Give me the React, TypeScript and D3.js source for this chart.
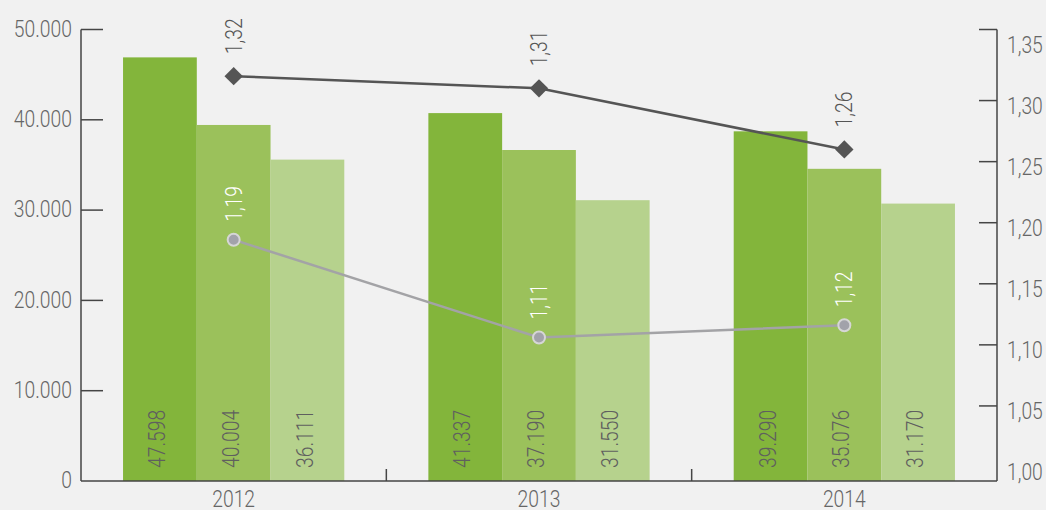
import * as d3 from 'd3'

const years = ['2012', '2013', '2014']
const seriesKeys = ['a', 'b', 'c']
const seriesA = [47598, 41337, 39290]
const seriesB = [40004, 37190, 35076]
const seriesC = [36111, 31550, 31170]
const ratioDark = [1.32, 1.31, 1.26]
const ratioLight = [1.186, 1.106, 1.116]
const leftTicks = [0, 10000, 20000, 30000, 40000, 50000]
const rightTicks = [1.0, 1.05, 1.1, 1.15, 1.2, 1.25, 1.3, 1.35]

const SQUEEZE = 0.84

// condensed-looking label: the original uses a narrow DIN-like face
const Label = ({ x, y, rot = 0, anchor = 'start', baseline = 'auto', fill, children }: any) => (
  <text
    transform={`translate(${x},${y}) rotate(${rot}) scale(${SQUEEZE},1)`}
    textAnchor={anchor}
    dominantBaseline={baseline}
    fontSize={23}
    fontWeight={300}
    fill={fill}
  >
    {children}
  </text>
)

const App = () => {
  const width = 1046
  const height = 510
  const BG = '#f1f1f1'
  const GREENS = ['#83b53b', '#9bc15b', '#b6d28d']
  const TEXT = '#666666'
  const AXIS = '#454545'
  const FONT = "Roboto, 'Liberation Sans', sans-serif"

  const left = 81
  const right = 997
  const bottom = 481

  const x = d3.scaleBand().domain(years).range([left, right]).padding(0)
  const xs = d3.scaleBand().domain(seriesKeys).range([0, x.bandwidth()]).paddingOuter(0.57)

  // axis ticks and bars are not quite on the same scale in the original
  const yAxis = d3.scaleLinear().domain([0, 50000]).range([bottom, 29.5])
  const y = d3.scaleLinear().domain([0, 50000]).range([bottom, 36])
  const y2 = d3.scaleLinear().domain([1, 1.35]).range([467, 39.5])

  const values = [seriesA, seriesB, seriesC]
  const fmtInt = (v: number) => d3.format(',')(v).replace(/,/g, '.')
  const fmtLeft = (v: number) => (v === 0 ? '0' : d3.format(',')(v).replace(/,/g, '.'))
  const fmtRatio = (v: number) => v.toFixed(2).replace('.', ',')
  const cx = (i: number) => (x(years[i]) as number) + x.bandwidth() / 2

  const ratioLine = d3.line<number>().x((_, i) => cx(i)).y((d) => y2(d))

  const rightTickY = (v: number) =>
    v === rightTicks[0] ? yAxis(0) : v === rightTicks[rightTicks.length - 1] ? yAxis(50000) : y2(v)

  return (
    <svg
      width={width}
      height={height}
      style={{ position: 'absolute', left: 0, top: 0 }}
      fontFamily={FONT}
    >
      <rect width={width} height={height} fill={BG} />

      {/* bars */}
      {years.map((yr, i) => (
        <g key={yr} transform={`translate(${x(yr)},0)`}>
          {seriesKeys.map((k, j) => {
            const v = values[j][i]
            const bx = xs(k) as number
            return (
              <g key={k}>
                <rect x={bx} y={y(v)} width={xs.bandwidth()} height={bottom - y(v)} fill={GREENS[j]} />
                <Label x={bx + xs.bandwidth() / 2 - 3} y={468} rot={-90} baseline="central" fill="#5f5f5f">
                  {fmtInt(v)}
                </Label>
              </g>
            )
          })}
        </g>
      ))}

      {/* left axis */}
      <line x1={left} x2={left} y1={yAxis(0)} y2={yAxis(50000)} stroke={AXIS} strokeWidth={1.5} />
      {leftTicks.map((t) => (
        <g key={t}>
          {t > 0 && <line x1={left} x2={103} y1={yAxis(t)} y2={yAxis(t)} stroke={AXIS} strokeWidth={1.5} />}
          <Label x={72} y={yAxis(t) - 1} anchor="end" baseline="central" fill={TEXT}>
            {fmtLeft(t)}
          </Label>
        </g>
      ))}

      {/* right axis */}
      <line x1={right} x2={right} y1={yAxis(0)} y2={yAxis(50000)} stroke={AXIS} strokeWidth={1.5} />
      {rightTicks.map((t) => (
        <g key={t}>
          {t > 1 && (
            <line x1={979} x2={right} y1={rightTickY(t)} y2={rightTickY(t)} stroke={AXIS} strokeWidth={1.5} />
          )}
          <Label x={1007} y={y2(t) + 5} baseline="central" fill={TEXT}>
            {fmtRatio(t)}
          </Label>
        </g>
      ))}

      {/* bottom axis */}
      <line x1={left} x2={right} y1={bottom} y2={bottom} stroke={AXIS} strokeWidth={1.5} />
      {years.slice(1).map((yr) => (
        <line key={yr} x1={x(yr)} x2={x(yr)} y1={bottom} y2={bottom - 12} stroke={AXIS} strokeWidth={1.5} />
      ))}
      {years.map((yr, i) => (
        <Label key={yr} x={cx(i)} y={507} anchor="middle" fill={TEXT}>
          {yr}
        </Label>
      ))}

      {/* ratio lines */}
      <path d={ratioLine(ratioLight) || ''} fill="none" stroke="#a3a3a6" strokeWidth={2.5} />
      {ratioLight.map((v, i) => (
        <g key={i}>
          <circle cx={cx(i)} cy={y2(v)} r={6} fill="#a2a2aa" stroke="#d6d6d6" strokeWidth={2} />
          <Label x={cx(i)} y={y2(v) - 18} rot={-90} baseline="central" fill="#ffffff">
            {fmtRatio(v)}
          </Label>
        </g>
      ))}

      <path d={ratioLine(ratioDark) || ''} fill="none" stroke="#555555" strokeWidth={2.5} />
      {ratioDark.map((v, i) => (
        <g key={i}>
          <rect
            x={-6.5}
            y={-6.5}
            width={13}
            height={13}
            fill="#555555"
            transform={`translate(${cx(i)},${y2(v)}) rotate(45)`}
          />
          <Label x={cx(i)} y={y2(v) - 22} rot={-90} baseline="central" fill="#555555">
            {fmtRatio(v)}
          </Label>
        </g>
      ))}
    </svg>
  )
}

export default App
